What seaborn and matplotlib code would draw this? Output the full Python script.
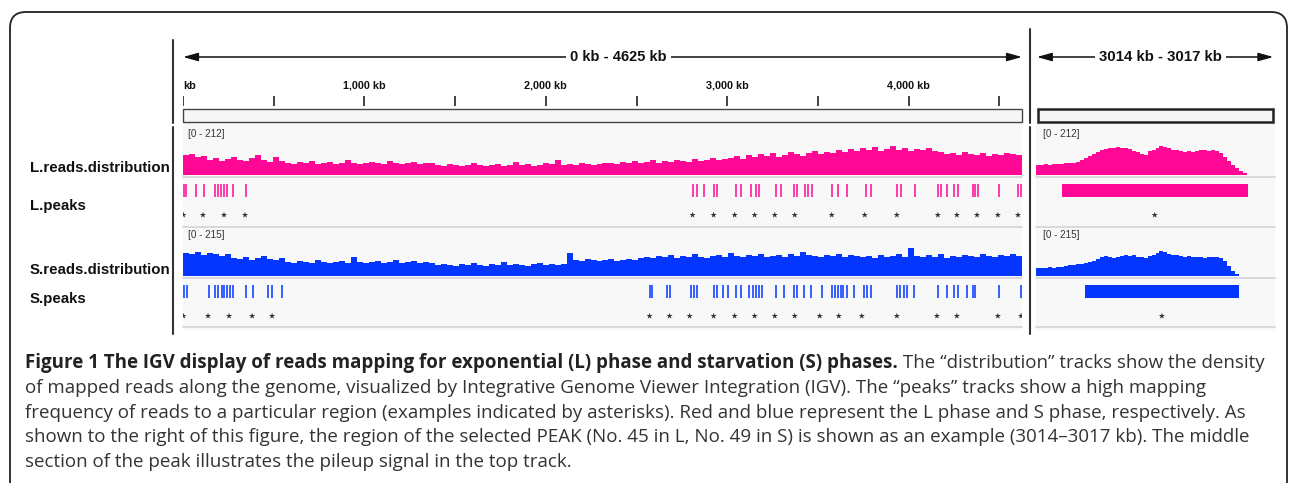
import numpy as np
import pandas as pd
import matplotlib
matplotlib.use("Agg")
import matplotlib.pyplot as plt
import seaborn as sns
from matplotlib.patches import FancyBboxPatch, Rectangle

# ---- data -------------------------------------------------------------
genome_kb = 4625
ruler_ticks_kb = [0, 500, 1000, 1500, 2000, 2500, 3000, 3500, 4000, 4500]
ruler_labels = {0: "kb", 1000: "1,000 kb", 2000: "2,000 kb", 3000: "3,000 kb", 4000: "4,000 kb"}
zoom_start_kb, zoom_end_kb = 3014, 3017
L_range, S_range = 212, 215

# coverage over the whole genome (140 equal bins)
L_cov = [88, 92, 79, 84,
         66, 75, 62, 70, 79, 66, 62, 75, 88, 66, 57, 79, 62,
         53, 48, 57, 53, 62, 48, 53, 57, 48, 53, 66, 53, 48, 53, 57, 53, 48, 62, 53, 48, 53, 57, 48, 53, 53,
         44, 40, 48, 44, 40, 44, 53, 44, 40, 44, 48, 40, 44, 57, 44, 48, 40, 44, 53, 48, 66, 44, 48, 44, 53,
         48, 44, 48, 53,
         53, 48, 57, 53, 62, 53, 57, 66, 53, 62, 57, 66, 62, 57, 70, 62, 66, 75, 66, 70,
         75, 84, 70, 88, 79, 92, 84, 97, 79, 88, 101, 92, 84, 97, 106, 92, 101, 97, 110, 101,
         114, 106, 119, 110, 123, 106, 114, 128, 110, 119, 106, 114, 110, 119, 106,
         101, 92, 97, 88, 101, 92, 88, 97, 84, 92, 88, 97, 92, 88]
S_cov = [103, 99, 108, 94, 103, 99, 90, 99,
         81, 76, 85, 72, 81, 90, 76, 72, 81,
         63, 58, 67, 63, 58, 72, 63, 58, 63, 67, 58, 85, 63, 58, 63, 67, 58, 63, 72, 58, 63, 67, 58, 63, 58,
         49, 54, 49, 45, 54, 49, 58, 49, 45, 54, 49, 63, 49, 54, 49, 45, 54, 58, 49, 54, 49, 54,
         103,
         72, 67, 76, 72, 67, 72, 76, 67, 72, 76, 72, 81,
         85, 81, 90, 85, 94, 81, 90, 85, 99, 85, 81, 90, 94, 85, 103, 90, 85, 94, 90, 99, 85, 90, 94, 85,
         99, 90, 108, 94, 90, 85, 94, 90, 99, 85, 94, 90,
         85, 90, 81, 94, 85, 90, 99, 85, 125, 90, 85, 94, 85, 99, 81, 90, 85, 94, 90, 85, 99, 90, 85, 94,
         90, 99, 90]

# coverage inside the selected peak, 0.05 kb bins starting at 3014 kb
L_zoom_cov = [44, 44, 48, 44, 48, 48, 48, 53, 53, 53, 57, 66, 75, 84, 92, 101, 110, 114,
              119, 119, 123, 119, 119, 114, 106, 101, 92, 88, 106, 110, 119, 128, 123, 119, 110, 110,
              106, 101, 106, 101, 106, 110, 110, 106, 110, 106, 97, 79, 62, 44, 31, 18, 9]
S_zoom_cov = [36, 36, 36, 40, 36, 40, 40, 45, 49, 49, 54, 54, 58, 63, 67, 76, 85, 90,
              85, 81, 85, 90, 94, 90, 94, 85, 85, 81, 90, 94, 103, 112, 108, 99, 94, 94,
              90, 85, 90, 85, 85, 85, 81, 85, 85, 85, 81, 67, 45, 22, 9]

# called peaks (kb)
L_peaks_kb = [3, 17, 72, 116, 177, 193, 210, 226, 243, 276, 348,
              2809, 2831, 2870, 2925, 2941, 3046, 3074, 3129, 3157, 3173, 3267, 3295, 3366, 3383,
              3427, 3444, 3466, 3576, 3609, 3659, 3764, 3791, 3935, 3957, 4034, 4161, 4178, 4211,
              4250, 4272, 4355, 4366, 4382, 4498, 4603, 4618]
S_peaks_kb = [3, 22, 143, 177, 193, 215, 226, 243, 259, 276, 348, 386, 469, 491, 546,
              2572, 2588, 2666, 2682, 2798, 2815, 2831, 2925, 2941, 2975, 3002, 3046, 3074, 3118,
              3140, 3157, 3173, 3190, 3267, 3311, 3366, 3383, 3422, 3460, 3521, 3576, 3593, 3609,
              3626, 3637, 3659, 3698, 3753, 3769, 3791, 3935, 3952, 3974, 3990, 4029, 4161, 4211,
              4250, 4272, 4321, 4355, 4366, 4498, 4620]
# example peaks marked with asterisks (kb)
L_marked_kb = [2, 110, 226, 342, 2809, 2925, 3041, 3151, 3262, 3372, 3576, 3758, 3935, 4161,
               4266, 4377, 4492, 4603]
S_marked_kb = [2, 138, 254, 381, 491, 2572, 2682, 2793, 2925, 3041, 3151, 3262, 3372, 3510,
               3615, 3742, 3935, 4156, 4266, 4492, 4620]
L_zoom_peak = (3014.33, 3016.66)
S_zoom_peak = (3014.62, 3016.55)
L_zoom_mark = [3015.49]
S_zoom_mark = [3015.58]

caption_bold = "Figure 1 The IGV display of reads mapping for exponential (L) phase and starvation (S) phases."
caption_lines = [
    " The \u201cdistribution\u201d tracks show the density",
    "of mapped reads along the genome, visualized by Integrative Genome Viewer Integration (IGV). The \u201cpeaks\u201d tracks show a high mapping",
    "frequency of reads to a particular region (examples indicated by asterisks). Red and blue represent the L phase and S phase, respectively. As",
    "shown to the right of this figure, the region of the selected PEAK (No. 45 in L, No. 49 in S) is shown as an example (3014\u20133017 kb). The middle",
    "section of the peak illustrates the pileup signal in the top track.",
]

# ---- style ------------------------------------------------------------
sns.set_style("white")
L_COL = "#FF0896"
S_COL = "#0536FF"
LABEL_FONT = ["Liberation Sans", "DejaVu Sans"]
CAP_FONT = ["Open Sans", "DejaVu Sans"]
W, H = 1290, 483

fig = plt.figure(figsize=(W / 100, H / 100), dpi=100)


def px_axes(x0, y0, x1, y1):
    ax = fig.add_axes([x0 / W, 1 - y1 / H, (x1 - x0) / W, (y1 - y0) / H])
    ax.set_axis_off()
    return ax


# background / frame layer in pixel units
bg = fig.add_axes([0, 0, 1, 1])
bg.set_xlim(0, W)
bg.set_ylim(H, 0)
bg.set_axis_off()
bg.add_patch(FancyBboxPatch((10, 12), 1277, 520, boxstyle="round,pad=0,rounding_size=16",
                            fc="none", ec="#222222", lw=1.3, clip_on=False))
for x0, w in [(183, 839), (1036, 239)]:
    bg.add_patch(Rectangle((x0, 123), w, 207, fc="#f8f8f8", ec="none"))
    for y in [177, 226.5, 277.5, 327]:
        bg.plot([x0, x0 + w], [y, y], color="#d2d2da", lw=1.2)
for x, ytop in [(173, 40), (1030, 29)]:
    bg.plot([x, x], [ytop, 123], color="#333333", lw=1.5)
    bg.plot([x, x], [127, 334], color="#333333", lw=1.5)

# track labels
for txt, y in [("L.reads.distribution", 168), ("L.peaks", 206),
               ("S.reads.distribution", 270), ("S.peaks", 299)]:
    bg.text(30, y, txt, fontsize=10.8, weight="bold", family=LABEL_FONT, va="center", color="#111111")
for x in [188, 1043]:
    bg.text(x, 134, f"[0 - {L_range}]", fontsize=7.1, family=LABEL_FONT, va="center", color="#333333")
    bg.text(x, 235, f"[0 - {S_range}]", fontsize=7.1, family=LABEL_FONT, va="center", color="#333333")

# ---- rulers -----------------------------------------------------------
ax_r = px_axes(183, 30, 1022, 124)
ax_r.set_xlim(0, genome_kb)
ax_r.set_ylim(124, 30)
ax_r.vlines(ruler_ticks_kb, 96, 106, color="#222222", lw=1.2)
for kb, lab in ruler_labels.items():
    ax_r.text(kb, 86, lab, ha="left" if kb == 0 else "center", va="center", fontsize=7.8,
              weight="bold", family=LABEL_FONT, color="#111111")
ax_r.add_patch(Rectangle((0, 109), genome_kb, 13, fc="#f6f6f6", ec="#444444", lw=1, clip_on=False))
ax_r.annotate("", xy=(0, 57), xytext=(genome_kb, 57), annotation_clip=False,
              arrowprops=dict(arrowstyle="<|-|>,head_length=0.9,head_width=0.25", color="#111111",
                              lw=1.1, shrinkA=0, shrinkB=0))
ax_r.text(2400, 57, f"0 kb - {genome_kb} kb", ha="center", va="center", fontsize=10.5, weight="bold",
          family=LABEL_FONT, color="#111111", bbox=dict(fc="white", ec="none", pad=3))

ax_rr = px_axes(1036, 30, 1275, 124)
ax_rr.set_xlim(zoom_start_kb, zoom_end_kb)
ax_rr.set_ylim(124, 30)
ax_rr.add_patch(Rectangle((zoom_start_kb + 0.03, 109), 2.95, 13, fc="#f6f6f6", ec="#222222",
                          lw=1.8, clip_on=False))
ax_rr.annotate("", xy=(zoom_start_kb + 0.01, 57), xytext=(zoom_end_kb - 0.02, 57), annotation_clip=False,
               arrowprops=dict(arrowstyle="<|-|>,head_length=0.9,head_width=0.25", color="#111111",
                               lw=1.1, shrinkA=0, shrinkB=0))
ax_rr.text(3015.56, 57, f"{zoom_start_kb} kb - {zoom_end_kb} kb", ha="center", va="center",
           fontsize=10.8, weight="bold", family=LABEL_FONT, color="#111111",
           bbox=dict(fc="white", ec="none", pad=3))


# ---- tracks -----------------------------------------------------------
def coverage(ax, values, start, stop, color, ymax, xlim):
    edges = np.linspace(start, stop, len(values) + 1).tolist()
    centers = [(a + b) / 2 for a, b in zip(edges[:-1], edges[1:])]
    df = pd.DataFrame({"pos": centers, "reads": values})
    sns.histplot(data=df, x="pos", weights="reads", bins=edges, element="step", fill=True,
                 color=color, alpha=1, linewidth=0, ax=ax)
    ax.set_xlim(*xlim)
    ax.set_ylim(0, ymax)
    ax.set_axis_off()


def peaks(ax, ticks, marks, color, xlim, y0, y1, ystar, span=None):
    if span is None:
        ax.vlines(ticks, y0, y1, color=color, lw=1.1)
    else:
        ax.axhspan(y0, y1, xmin=(span[0] - xlim[0]) / (xlim[1] - xlim[0]),
                   xmax=(span[1] - xlim[0]) / (xlim[1] - xlim[0]), color=color, lw=0)
    df = pd.DataFrame({"pos": marks, "lvl": [ystar] * len(marks)})
    sns.scatterplot(data=df, x="pos", y="lvl", marker="*", s=22, color="#333333",
                    edgecolor="none", ax=ax, legend=False)
    ax.set_xlim(*xlim)
    ax.set_ylim(50, 0)
    ax.set_axis_off()


main = (0, genome_kb)
zoom = (zoom_start_kb, zoom_end_kb)
zoom_L_stop = zoom_start_kb + 0.05 * len(L_zoom_cov)
zoom_S_stop = zoom_start_kb + 0.05 * len(S_zoom_cov)

coverage(px_axes(183, 127, 1022, 175), L_cov, 0, genome_kb, L_COL, L_range, main)
coverage(px_axes(183, 228, 1022, 276), S_cov, 0, genome_kb, S_COL, S_range, main)
coverage(px_axes(1036, 127, 1275, 175), L_zoom_cov, zoom_start_kb, zoom_L_stop, L_COL, L_range, zoom)
coverage(px_axes(1036, 228, 1275, 276), S_zoom_cov, zoom_start_kb, zoom_S_stop, S_COL, S_range, zoom)

peaks(px_axes(183, 177, 1022, 227), L_peaks_kb, L_marked_kb, L_COL, main, 7, 20, 38)
peaks(px_axes(183, 277, 1022, 327), S_peaks_kb, S_marked_kb, S_COL, main, 8, 21, 39)
peaks(px_axes(1036, 177, 1275, 227), None, L_zoom_mark, L_COL, zoom, 7, 20, 38, span=L_zoom_peak)
peaks(px_axes(1036, 277, 1275, 327), None, S_zoom_mark, S_COL, zoom, 8, 21, 39, span=S_zoom_peak)

# ---- caption ----------------------------------------------------------
renderer = fig.canvas.get_renderer()
size = 12.5
line_y = [363, 388, 413, 437, 462]
t_bold = bg.text(25, line_y[0], caption_bold, fontsize=size, weight="bold", family=CAP_FONT,
                 va="center", color="#222222")
t_rest = [bg.text(25, y, line, fontsize=size, family=CAP_FONT, va="center", color="#333333")
          for y, line in zip(line_y, caption_lines)]
w = t_bold.get_window_extent(renderer).width + t_rest[0].get_window_extent(renderer).width
size = size * 1240 / w
for t in [t_bold] + t_rest:
    t.set_fontsize(size)
t_rest[0].set_x(25 + t_bold.get_window_extent(renderer).width)

fig.savefig("out.png", dpi=100)
